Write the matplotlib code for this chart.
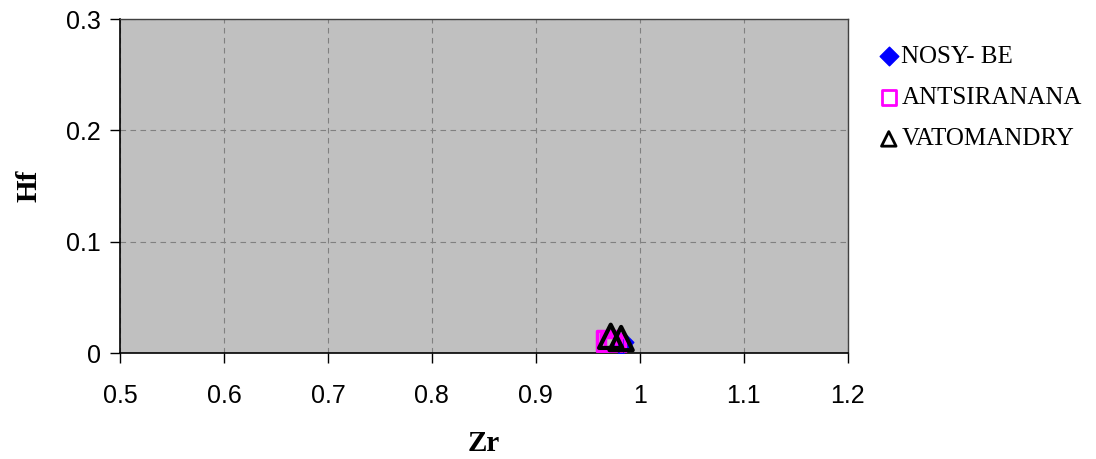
import matplotlib
matplotlib.use("Agg")
import matplotlib.pyplot as plt

series_names = ["NOSY- BE", "ANTSIRANANA", "VATOMANDRY"]
nosybe_zr = [0.982, 0.984]
nosybe_hf = [0.007, 0.010]
antsi_zr = [0.968, 0.972, 0.976]
antsi_hf = [0.011, 0.008, 0.006]
vato_zr = [0.972, 0.982]
vato_hf = [0.015, 0.013]

x_ticks = [0.5, 0.6, 0.7, 0.8, 0.9, 1.0, 1.1, 1.2]
x_tick_labels = ["0.5", "0.6", "0.7", "0.8", "0.9", "1", "1.1", "1.2"]
y_ticks = [0, 0.1, 0.2, 0.3]
y_tick_labels = ["0", "0.1", "0.2", "0.3"]

fig = plt.figure(figsize=(10.96, 4.59), dpi=100)
ax = fig.add_axes([0.1095, 0.2309, 0.664, 0.7277])
ax.set_facecolor("#C0C0C0")

ax.scatter(nosybe_zr, nosybe_hf, marker="D", s=110, color="#0000FF", zorder=3, label=series_names[0])
ax.scatter(antsi_zr, antsi_hf, marker="s", s=200, facecolors="none", edgecolors="#FF00FF", linewidths=2.5, zorder=3, label=series_names[1])
ax.scatter(vato_zr, vato_hf, marker="^", s=280, facecolors="none", edgecolors="black", linewidths=3, zorder=4, label=series_names[2])

ax.set_xlim(0.5, 1.2)
ax.set_ylim(0, 0.3)
ax.set_xticks(x_ticks)
ax.set_xticklabels(x_tick_labels, fontname="Liberation Sans", fontsize=18)
ax.set_yticks(y_ticks)
ax.set_yticklabels(y_tick_labels, fontname="Liberation Sans", fontsize=18)
ax.tick_params(axis="both", direction="out", length=7, width=1, color="black")
ax.tick_params(axis="x", pad=15)
ax.tick_params(axis="y", pad=7)
ax.grid(True, color="#808080", linestyle=(0, (5, 4)), linewidth=0.8)
ax.set_axisbelow(True)

for s in ["top", "right"]:
    ax.spines[s].set_color("#404040")
    ax.spines[s].set_linewidth(1)
for s in ["left", "bottom"]:
    ax.spines[s].set_color("black")
    ax.spines[s].set_linewidth(1.2)

ax.set_xlabel("Zr", fontname="Liberation Serif", fontweight="bold", fontsize=21, labelpad=16)
ax.set_ylabel("Hf", fontname="Liberation Serif", fontweight="bold", fontsize=21, labelpad=17)

leg = fig.legend(loc="upper left", bbox_to_anchor=(0.779, 0.95), frameon=False,
                 prop={"family": "Liberation Serif", "size": 18}, handletextpad=0.0,
                 labelspacing=0.75, handlelength=1.0, scatterpoints=1)
for h, sz in zip(leg.legend_handles, [90, 110, 110]):
    h.set_sizes([sz])
    h.set_linewidths([2] if sz == 110 else [1])

fig.savefig("out.png", dpi=100)
